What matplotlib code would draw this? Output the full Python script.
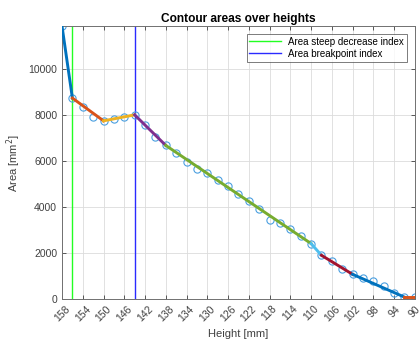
import numpy as np
import matplotlib
matplotlib.use("Agg")
import matplotlib.pyplot as plt

plt.rcParams["font.family"] = ["Liberation Sans", "DejaVu Sans"]

# heights in mm, every 2 mm from 158 down to 90
heights = np.arange(158, 89, -2)
areas = [11870, 8740, 8330, 7930, 7750, 7850, 7910, 8010, 7560, 7060,
         6680, 6330, 5960, 5650, 5480, 5190, 4900, 4550, 4260, 3910,
         3435, 3300, 3040, 2740, 2410, 1900, 1630, 1300, 1072, 900,
         775, 550, 280, 80, 80]

# piecewise linear segments: breakpoints (heights)
breaks = [158, 156, 150, 144, 138, 110, 108, 102, 92, 90]
seg_colors = ["#0072BD", "#D95319", "#EDB120", "#7E2F8E", "#77AC30",
              "#4DBEEE", "#A2142F", "#0072BD", "#D95319"]

steep_idx_height = 156
breakpoint_height = 144

area_of = dict(zip(heights, areas))

fig = plt.figure(figsize=(4.19, 3.44), dpi=100)
ax = fig.add_axes([0.148, 0.131, 0.842, 0.793])

ax.plot(heights, areas, "o", mfc="none", mec="#4a9fe0", ms=5.2, mew=0.8, zorder=2)
for i in range(len(breaks) - 1):
    h0, h1 = breaks[i], breaks[i + 1]
    ax.plot([h0, h1], [area_of[h0], area_of[h1]], color=seg_colors[i], lw=2.1, zorder=3)

ax.axvline(steep_idx_height, color="#22ff22", lw=1, label="Area steep decrease index", zorder=1)
ax.axvline(breakpoint_height, color="#2a2aff", lw=1, label="Area breakpoint index", zorder=1)

ax.set_xlim(158, 90)
ax.set_ylim(0, areas[0])
ax.set_xticks(np.arange(158, 89, -4))
ax.set_yticks(np.arange(0, 12000, 2000))
ax.tick_params(axis="both", labelsize=7.5, colors="#404040", direction="in",
               length=3, width=0.6, top=True, right=True)
plt.setp(ax.get_xticklabels(), rotation=45, ha="center", va="top")
ax.grid(True, color="#dcdcdc", lw=0.6)
ax.set_axisbelow(True)
for sp in ax.spines.values():
    sp.set_color("#707070")
    sp.set_linewidth(0.7)

ax.set_title("Contour areas over heights", fontsize=8.6, fontweight="bold", pad=3)
ax.set_xlabel("Height [mm]", fontsize=8, color="#404040")
ax.set_ylabel("Area [mm$^2$]", fontsize=8, color="#404040")
leg = ax.legend(loc="upper right", fontsize=7, frameon=True, fancybox=False,
                edgecolor="#404040", borderpad=0.3, handlelength=3.2,
                labelspacing=0.2, borderaxespad=0.8)
leg.get_frame().set_linewidth(0.6)

fig.savefig("out.png", dpi=100)
